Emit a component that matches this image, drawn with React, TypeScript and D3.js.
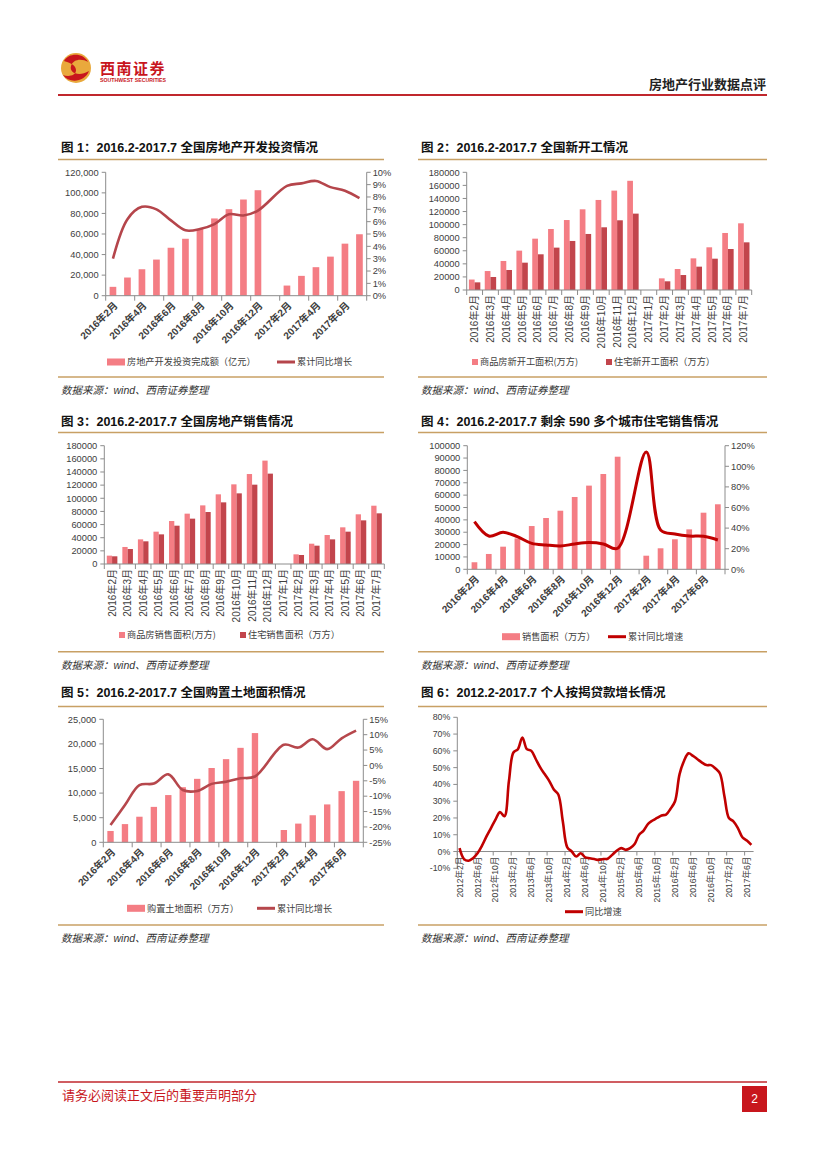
import React from "react";
import * as d3 from "d3";

const SANS = "'Liberation Sans', 'Noto Sans CJK SC', sans-serif";
const CJK = "'Noto Sans CJK SC', sans-serif";
const INK = "#404040";
const AXIS = "#8c8c8c";
const PINK = "#f47d84";
const DARK = "#c2454c";
const TAN = "#c8a064";
const RED = "#c8161d";

// cumulative monthly data, 2016.2 - 2017.7 (2017年1月 is empty)
const months = [
  "2016年2月", "2016年3月", "2016年4月", "2016年5月", "2016年6月", "2016年7月",
  "2016年8月", "2016年9月", "2016年10月", "2016年11月", "2016年12月", "2017年1月",
  "2017年2月", "2017年3月", "2017年4月", "2017年5月", "2017年6月", "2017年7月",
];

// 图1 房地产开发投资
const investAmount = [8616, 17677, 25727, 35136, 46631, 55360, 64853, 75130, 84145, 93531, 102581, null, 9854, 19292, 27732, 37994, 50610, 59761];
const investYoY = [3.0, 6.2, 7.2, 7.0, 6.1, 5.3, 5.4, 5.8, 6.6, 6.5, 6.9, null, 8.9, 9.1, 9.3, 8.8, 8.5, 7.9];

// 图2 新开工面积
const newStartAll = [16000, 29000, 44400, 60200, 78500, 93300, 107000, 123400, 137700, 152000, 167000, null, 17800, 32100, 48400, 65300, 87200, 102000];
const newStartHouse = [11700, 19900, 30600, 41800, 54600, 64800, 75000, 85700, 95900, 106600, 116800, null, 13300, 22900, 35700, 47900, 62700, 72900];

// 图3 销售面积
const salesAll = [12700, 25900, 37500, 49200, 65400, 76600, 89200, 106000, 121200, 136900, 157300, null, 14700, 30900, 44100, 55800, 75600, 88700];
const salesHouse = [11700, 22800, 34500, 45100, 58300, 69000, 79100, 93800, 107500, 120700, 137500, null, 13700, 27900, 37500, 49200, 66400, 77100];

// 图4 590多个城市住宅销售
const cityArea = [5700, 12400, 18300, 25000, 35000, 41500, 47400, 58500, 67700, 77100, 91100, null, 11000, 17000, 24300, 32300, 45800, 52600];
const cityYoY = [46.2, 32.3, 35.9, 31.7, 25.2, 23.6, 22.6, 24.6, 25.9, 24.6, 20.4, null, 114, 38.2, 34.3, 32.3, 32.0, 28.5];

// 图5 购置土地面积
const landArea = [2300, 3700, 5200, 7200, 9600, 11200, 12900, 15100, 16900, 19200, 22200, null, 2500, 3800, 5500, 7700, 10400, 12500];
const landYoY = [-19.4, -12.9, -6.4, -5.9, -2.9, -8.0, -8.3, -6.0, -5.3, -4.2, -3.6, null, 6.7, 5.8, 8.5, 5.3, 8.8, 11.3];

// 图6 个人按揭贷款同比, 2012.2 - 2017.7
const mortgageMonths = d3.range(66).map((i) => {
  const m = i + 1;
  return `${2012 + Math.floor(m / 12)}年${(m % 12) + 1}月`;
});
const mortgageYoY = [
  2, -4.5, -5.5, -4, -1, 3.5, 9, 14, 19, 23.5, 21,
  42, 59, 61, 68, 61, 60, 55, 50, 46, 42, 37, 34,
  18, 2.5, 0, -3, -1, -3.5, -4, -4.5, -5, -4.5, -4.3, -2,
  0.5, 2, 1, 2, 4.5, 10, 12.5, 16.5, 18.5, 20, 21.5, 22,
  25.5, 30, 46, 54, 58.5, 57, 55, 53, 51.5, 51.5, 49.5, 46.5,
  33, 20, 18, 14, 8.5, 6.5, 4,
];

const comma = d3.format(",");
const plain = d3.format("d");
const pct = (v: number) => `${v}%`;

type LegendItem = { kind: "bar" | "square" | "line"; x: number; label: string; color: string };

function Legend({ y, items }: { y: number; items: LegendItem[] }) {
  return (
    <g>
      {items.map((it, i) => (
        <g key={i}>
          {it.kind === "bar" && <rect x={it.x} y={y - 3.5} width={18} height={7} fill={it.color} />}
          {it.kind === "square" && <rect x={it.x} y={y - 3} width={6} height={6} fill={it.color} />}
          {it.kind === "line" && <line x1={it.x} x2={it.x + 18} y1={y} y2={y} stroke={it.color} strokeWidth={3} />}
          <text x={it.x + (it.kind === "square" ? 8 : 20)} y={y} dy="0.35em" fontSize={9.2} fill={INK} fontFamily={CJK}>
            {it.label}
          </text>
        </g>
      ))}
    </g>
  );
}

type ComboProps = {
  left: number; right: number; top: number; bottom: number;
  bars: { values: (number | null)[]; color: string }[];
  barSpan: number;
  leftMax: number; leftStep: number; leftFmt: (v: number) => string;
  line?: { values: (number | null)[]; color: string; width: number; min: number; max: number; step: number };
  labels: "diag" | "vert";
  labelSize: number;
  legendY: number;
  legend: LegendItem[];
};

function ComboChart(p: ComboProps) {
  const x = d3.scaleBand<string>().domain(months).range([p.left, p.right]);
  const bw = x.bandwidth();
  const yL = d3.scaleLinear().domain([0, p.leftMax]).range([p.bottom, p.top]);
  const inner = d3
    .scaleBand<number>()
    .domain(p.bars.map((_, i) => i))
    .range([(bw * (1 - p.barSpan)) / 2, (bw * (1 + p.barSpan)) / 2]);
  const leftTicks = d3.range(0, p.leftMax + 1e-6, p.leftStep);
  const every = p.labels === "diag" ? 2 : 1;

  let yR: d3.ScaleLinear<number, number> | null = null;
  let path = "";
  let rightTicks: number[] = [];
  if (p.line) {
    const ln = p.line;
    yR = d3.scaleLinear().domain([ln.min, ln.max]).range([p.bottom, p.top]);
    rightTicks = d3.range(ln.min, ln.max + 1e-6, ln.step);
    const pts = months
      .map((m, i) => ({ m, v: ln.values[i] }))
      .filter((d) => d.v != null) as { m: string; v: number }[];
    path =
      d3
        .line<{ m: string; v: number }>()
        .x((d) => (x(d.m) ?? 0) + bw / 2)
        .y((d) => yR!(d.v))
        .curve(d3.curveCatmullRom.alpha(0.5))(pts) ?? "";
  }

  return (
    <g fontFamily={SANS}>
      {p.bars.map((s, si) =>
        months.map((m, i) =>
          s.values[i] == null ? null : (
            <rect
              key={`${si}-${i}`}
              x={(x(m) ?? 0) + (inner(si) ?? 0)}
              y={yL(s.values[i] as number)}
              width={inner.bandwidth()}
              height={p.bottom - yL(s.values[i] as number)}
              fill={s.color}
            />
          )
        )
      )}
      {/* left axis */}
      <line x1={p.left} x2={p.left} y1={p.top} y2={p.bottom} stroke={AXIS} />
      {leftTicks.map((t) => (
        <g key={t}>
          <line x1={p.left - 4} x2={p.left} y1={yL(t)} y2={yL(t)} stroke={AXIS} />
          <text x={p.left - 7} y={yL(t)} dy="0.35em" textAnchor="end" fontSize={9.3} fill={INK}>
            {p.leftFmt(t)}
          </text>
        </g>
      ))}
      {/* right axis */}
      {yR && (
        <g>
          <line x1={p.right} x2={p.right} y1={p.top} y2={p.bottom} stroke={AXIS} />
          {rightTicks.map((t) => (
            <g key={t}>
              <line x1={p.right} x2={p.right + 4} y1={yR!(t)} y2={yR!(t)} stroke={AXIS} />
              <text x={p.right + 6} y={yR!(t)} dy="0.35em" fontSize={9.3} fill={INK}>
                {pct(t)}
              </text>
            </g>
          ))}
        </g>
      )}
      {/* category axis */}
      <line x1={p.left} x2={p.right} y1={p.bottom} y2={p.bottom} stroke={AXIS} />
      {d3.range(0, months.length + 1, every).map((i) => (
        <line key={i} x1={p.left + i * bw} x2={p.left + i * bw} y1={p.bottom} y2={p.bottom + 5} stroke={AXIS} />
      ))}
      {months.map((m, i) => {
        if (i % every !== 0) return null;
        const cx = (x(m) ?? 0) + bw / 2;
        return p.labels === "diag" ? (
          <text
            key={m}
            transform={`translate(${cx + 3},${p.bottom + 8}) rotate(-45)`}
            textAnchor="end"
            dy="0.35em"
            fontSize={p.labelSize}
            fontWeight="bold"
            fill={INK}
          >
            {m}
          </text>
        ) : (
          <text
            key={m}
            transform={`translate(${cx},${p.bottom + 5}) rotate(-90)`}
            textAnchor="end"
            dy="0.35em"
            fontSize={p.labelSize}
            fill={INK}
          >
            {m}
          </text>
        );
      })}
      {p.line && <path d={path} fill="none" stroke={p.line.color} strokeWidth={p.line.width} strokeLinejoin="round" />}
      <Legend y={p.legendY} items={p.legend} />
    </g>
  );
}

function MortgageChart() {
  const left = 457.3;
  const right = 753.6;
  const x = d3.scaleBand<string>().domain(mortgageMonths).range([left, right]);
  const bw = x.bandwidth();
  const y = d3.scaleLinear().domain([-10, 80]).range([868.3, 717.3]);
  const ticks = d3.range(-10, 81, 10);
  const pts = mortgageMonths.map((m, i) => ({ m, v: mortgageYoY[i] }));
  const path =
    d3
      .line<{ m: string; v: number }>()
      .x((d) => (x(d.m) ?? 0) + bw / 2)
      .y((d) => y(d.v))
      .curve(d3.curveCatmullRom.alpha(0.5))(pts) ?? "";
  return (
    <g fontFamily={SANS}>
      <line x1={left} x2={left} y1={y(80)} y2={y(-10)} stroke={AXIS} />
      {ticks.map((t) => (
        <g key={t}>
          <line x1={left - 4} x2={left} y1={y(t)} y2={y(t)} stroke={AXIS} />
          <text x={left - 7} y={y(t)} dy="0.35em" textAnchor="end" fontSize={8.8} fill={INK}>
            {pct(t)}
          </text>
        </g>
      ))}
      <line x1={left} x2={right} y1={y(0)} y2={y(0)} stroke={AXIS} />
      {mortgageMonths.map((m, i) =>
        i % 4 !== 0 ? null : (
          <g key={m}>
            <line x1={left + i * bw} x2={left + i * bw} y1={y(0)} y2={y(0) + 4} stroke={AXIS} />
            <text
              transform={`translate(${(x(m) ?? 0) + bw / 2},${y(0) + 5}) rotate(-90)`}
              textAnchor="end"
              dy="0.35em"
              fontSize={8.6}
              fill={INK}
            >
              {m}
            </text>
          </g>
        )
      )}
      <path d={path} fill="none" stroke="#c00000" strokeWidth={2.6} strokeLinejoin="round" />
      <Legend y={911.7} items={[{ kind: "line", x: 565, label: "同比增速", color: "#c00000" }]} />
    </g>
  );
}

function Panel({ x1, x2, titleY, topY, bottomY, title }: { x1: number; x2: number; titleY: number; topY: number; bottomY: number; title: string }) {
  return (
    <g>
      <text x={x1 + 3} y={titleY} fontSize={12.5} fontWeight="bold" fill="#111" fontFamily={SANS}>
        {title}
      </text>
      <line x1={x1} x2={x2} y1={topY} y2={topY} stroke={TAN} strokeWidth={1.6} />
      <line x1={x1} x2={x2} y1={bottomY} y2={bottomY} stroke={TAN} strokeWidth={1.6} />
      <text x={x1 + 3} y={bottomY + 17} fontSize={10.5} fontStyle="italic" fill="#333" fontFamily={SANS}>
        数据来源：wind、西南证券整理
      </text>
    </g>
  );
}

export default function App() {
  return (
    <div style={{ position: "absolute", left: 0, top: 0, width: 827, height: 1169, background: "#fff" }}>
      <svg width={827} height={1169} viewBox="0 0 827 1169">
        <rect width={827} height={1169} fill="#fff" />
        {/* header */}
        <circle cx={76} cy={68} r={15} fill="#e9a93c" />
        <path d="M 64 61 C 69 52, 84 53, 88 62 C 82 58, 73 59, 71 66 C 69 73, 79 77, 89 71 C 85 82, 69 84, 63 75 C 68 77, 76 76, 76 70 C 76 64, 67 62, 64 61 Z" fill={RED} />
        <text x={100} y={74} fontSize={15} fontWeight="bold" fill={RED} fontFamily={CJK} letterSpacing={1.5}>
          西南证券
        </text>
        <text x={100} y={81.5} fontSize={5} fontWeight="bold" fill={RED} fontFamily={SANS} textLength={66} lengthAdjust="spacingAndGlyphs">
          SOUTHWEST SECURITIES
        </text>
        <text x={766} y={89} textAnchor="end" fontSize={13} fontWeight="bold" fill="#222" fontFamily={CJK}>
          房地产行业数据点评
        </text>
        <line x1={58} x2={767} y1={95} y2={95} stroke="#c0272d" strokeWidth={2} />

        <Panel x1={58} x2={384} titleY={152.3} topY={159.5} bottomY={377} title="图 1：2016.2-2017.7 全国房地产开发投资情况" />
        <Panel x1={418} x2={767} titleY={152.3} topY={159.5} bottomY={377} title="图 2：2016.2-2017.7 全国新开工情况" />
        <Panel x1={58} x2={384} titleY={425.7} topY={432.5} bottomY={651.7} title="图 3：2016.2-2017.7 全国房地产销售情况" />
        <Panel x1={418} x2={767} titleY={425.7} topY={432.5} bottomY={651.7} title="图 4：2016.2-2017.7 剩余 590 多个城市住宅销售情况" />
        <Panel x1={58} x2={384} titleY={697} topY={706.5} bottomY={925} title="图 5：2016.2-2017.7 全国购置土地面积情况" />
        <Panel x1={418} x2={767} titleY={697} topY={706.5} bottomY={925} title="图 6：2012.2-2017.7 个人按揭贷款增长情况" />

        <ComboChart
          left={105.7} right={366.7} top={172.3} bottom={295.7}
          bars={[{ values: investAmount, color: PINK }]} barSpan={0.46}
          leftMax={120000} leftStep={20000} leftFmt={comma}
          line={{ values: investYoY, color: "#b5454b", width: 2.6, min: 0, max: 10, step: 1 }}
          labels="diag" labelSize={10} legendY={362}
          legend={[
            { kind: "bar", x: 107, label: "房地产开发投资完成额（亿元）", color: PINK },
            { kind: "line", x: 277, label: "累计同比增长", color: "#b5454b" },
          ]}
        />
        <ComboChart
          left={466.7} right={751.7} top={172.3} bottom={290}
          bars={[{ values: newStartAll, color: PINK }, { values: newStartHouse, color: DARK }]} barSpan={0.72}
          leftMax={180000} leftStep={20000} leftFmt={plain}
          labels="vert" labelSize={10} legendY={362}
          legend={[
            { kind: "square", x: 472, label: "商品房新开工面积(万方)", color: PINK },
            { kind: "square", x: 606, label: "住宅新开工面积（万方）", color: DARK },
          ]}
        />
        <ComboChart
          left={104.3} right={384.3} top={445.7} bottom={564}
          bars={[{ values: salesAll, color: PINK }, { values: salesHouse, color: DARK }]} barSpan={0.68}
          leftMax={180000} leftStep={20000} leftFmt={plain}
          labels="vert" labelSize={10} legendY={635}
          legend={[
            { kind: "square", x: 119, label: "商品房销售面积(万方)", color: PINK },
            { kind: "square", x: 240, label: "住宅销售面积（万方）", color: DARK },
          ]}
        />
        <ComboChart
          left={467.3} right={725} top={445.7} bottom={569.3}
          bars={[{ values: cityArea, color: PINK }]} barSpan={0.4}
          leftMax={100000} leftStep={10000} leftFmt={plain}
          line={{ values: cityYoY, color: "#c00000", width: 3, min: 0, max: 120, step: 20 }}
          labels="diag" labelSize={10} legendY={636.7}
          legend={[
            { kind: "bar", x: 502, label: "销售面积（万方）", color: PINK },
            { kind: "line", x: 608, label: "累计同比增速", color: "#c00000" },
          ]}
        />
        <ComboChart
          left={103.3} right={363.3} top={719.3} bottom={842.3}
          bars={[{ values: landArea, color: PINK }]} barSpan={0.44}
          leftMax={25000} leftStep={5000} leftFmt={comma}
          line={{ values: landYoY, color: "#b6474c", width: 2.6, min: -25, max: 15, step: 5 }}
          labels="diag" labelSize={10} legendY={908.3}
          legend={[
            { kind: "bar", x: 127, label: "购置土地面积（万方）", color: PINK },
            { kind: "line", x: 257, label: "累计同比增长", color: "#b6474c" },
          ]}
        />
        <MortgageChart />

        {/* footer */}
        <line x1={58} x2={767} y1={1082} y2={1082} stroke="#c0272d" strokeWidth={1.5} />
        <text x={62} y={1100} fontSize={13} fill={RED} fontFamily={CJK}>
          请务必阅读正文后的重要声明部分
        </text>
        <rect x={742} y={1086} width={25} height={26} fill={RED} />
        <text x={754.5} y={1099} dy="0.35em" textAnchor="middle" fontSize={12} fill="#fff" fontFamily={SANS}>
          2
        </text>
      </svg>
    </div>
  );
}
